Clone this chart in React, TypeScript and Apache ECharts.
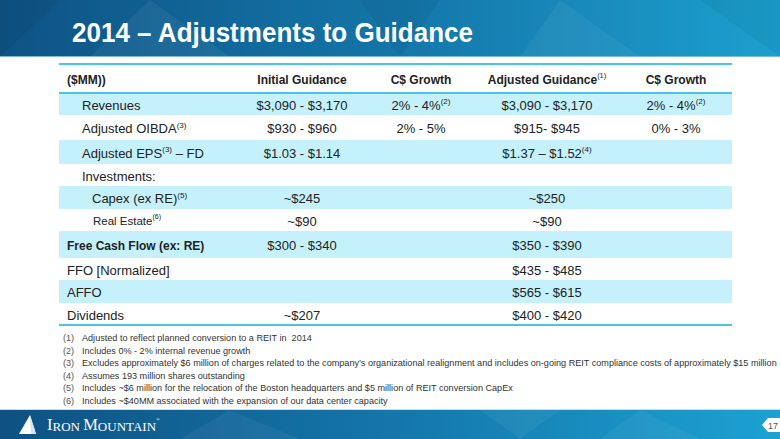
import React, { useEffect, useRef } from 'react';
import * as echarts from 'echarts';

// ---------- data ----------
const title = '2014 – Adjustments to Guidance';
const columnHeaders = ['($MM))', 'Initial Guidance', 'C$ Growth', 'Adjusted Guidance^(1)', 'C$ Growth'];
const rowLabels = [
  'Revenues',
  'Adjusted OIBDA^(3)',
  'Adjusted EPS^(3) – FD',
  'Investments:',
  'Capex (ex RE)^(5)',
  'Real Estate^(6)',
  'Free Cash Flow (ex: RE)',
  'FFO [Normalized]',
  'AFFO',
  'Dividends',
];
const initialGuidance = ['$3,090 - $3,170', '$930 - $960', '$1.03 - $1.14', '', '~$245', '~$90', '$300 - $340', '', '', '~$207'];
const initialGrowth = ['2% - 4%^(2)', '2% - 5%', '', '', '', '', '', '', '', ''];
const adjustedGuidance = ['$3,090 - $3,170', '$915- $945', '$1.37 – $1.52^(4)', '', '~$250', '~$90', '$350 - $390', '$435 - $485', '$565 - $615', '$400 - $420'];
const adjustedGrowth = ['2% - 4%^(2)', '0% - 3%', '', '', '', '', '', '', '', ''];
const footnoteNumbers = ['(1)', '(2)', '(3)', '(4)', '(5)', '(6)'];
const footnotes = [
  'Adjusted to reflect planned conversion to a REIT in  2014',
  'Includes 0% - 2% internal revenue growth',
  'Excludes approximately $6 million of charges related to the company’s organizational realignment and includes on-going REIT compliance costs of approximately $15 million',
  'Assumes 193 million shares outstanding',
  'Includes ~$6 million for the relocation of the Boston headquarters and $5 million of REIT conversion CapEx',
  'Includes ~$40MM associated with the expansion of our data center capacity',
];
const pageNumber = '17';

// ---------- layout ----------
const W = 780;
const H = 439;
const tableLeft = 59;
const tableRight = 732;
const tableTop = 64;
const headerBottom = 93;
const rowBounds = [93, 115, 140, 164, 186, 209, 231, 258, 280, 303, 325];
const labelX = [82, 82, 82, 82, 92, 93, 67, 67, 67, 67];
const labelSize = [13, 13, 13, 13, 13, 11.5, 12, 13, 13, 13];
const labelBold = [false, false, false, false, false, false, true, false, false, false];
const colCenters = [302, 421, 547, 676];
const FONT = '"Liberation Sans", Arial, sans-serif';
const TEXT = '#222';

const toRich = (s: string) => s.replace(/\^\((\d)\)/g, '{sup|($1)}');

function cellText(s: string, x: number, y: number, size: number, bold: boolean, align: string) {
  return {
    type: 'text',
    x,
    y,
    silent: true,
    style: {
      text: toRich(s),
      fill: TEXT,
      font: `${bold ? 'bold ' : ''}${size}px ${FONT}`,
      fontSize: size,
      fontWeight: bold ? 'bold' : 'normal',
      fontFamily: FONT,
      align,
      verticalAlign: 'middle',
      lineHeight: 15,
      rich: {
        sup: {
          fontSize: size * 0.62,
          fontFamily: FONT,
          fontWeight: 'normal',
          fill: TEXT,
          verticalAlign: 'top',
          lineHeight: 9,
        },
      },
    },
  };
}

function buildGraphics() {
  const g: any[] = [];
  // header band
  g.push({
    type: 'rect',
    shape: { x: 0, y: 0, width: W, height: 57 },
    style: {
      fill: new echarts.graphic.LinearGradient(0, 0, 1, 0, [
        { offset: 0, color: '#0e5384' },
        { offset: 0.5, color: '#1475a8' },
        { offset: 1, color: '#1ca0cf' },
      ]),
    },
    silent: true,
  });
  // faint triangle textures
  const tris = [
    [[0, 0], [60, 0], [0, 57]],
    [[150, 0], [230, 57], [90, 57]],
    [[360, 0], [440, 0], [400, 57]],
    [[560, 0], [640, 57], [520, 57]],
    [[700, 0], [780, 0], [780, 57]],
  ];
  tris.forEach((pts, i) =>
    g.push({
      type: 'polygon',
      shape: { points: pts },
      style: { fill: i % 2 ? 'rgba(255,255,255,0.05)' : 'rgba(0,0,0,0.05)' },
      silent: true,
    })
  );
  g.push({ type: 'rect', shape: { x: 0, y: 56, width: W, height: 1 }, style: { fill: '#7fb9d6' }, silent: true });
  // title
  g.push({
    type: 'text',
    x: 72,
    y: 33,
    scaleX: 0.93,
    silent: true,
    style: {
      text: title,
      fill: '#ffffff',
      font: `bold 28px ${FONT}`,
      align: 'left',
      verticalAlign: 'middle',
    },
  });

  // row shading
  for (let i = 0; i < rowLabels.length; i++) {
    if (i % 2 === 0) {
      g.push({
        type: 'rect',
        shape: { x: tableLeft, y: rowBounds[i], width: tableRight - tableLeft, height: rowBounds[i + 1] - rowBounds[i] },
        style: { fill: '#c4f1fc' },
        silent: true,
      });
    }
  }
  // table lines
  const lineY = [tableTop, headerBottom, rowBounds[rowBounds.length - 1]];
  lineY.forEach((y) =>
    g.push({
      type: 'line',
      shape: { x1: tableLeft, y1: y, x2: tableRight, y2: y },
      style: { stroke: '#4cc4ea', lineWidth: 2 },
      silent: true,
    })
  );

  // header row
  const hy = (tableTop + headerBottom) / 2 + 1;
  g.push(cellText(columnHeaders[0], 67, hy, 12, true, 'left'));
  for (let c = 1; c < columnHeaders.length; c++) {
    g.push(cellText(columnHeaders[c], colCenters[c - 1], hy, 12, true, 'center'));
  }

  // body rows
  const cols = [initialGuidance, initialGrowth, adjustedGuidance, adjustedGrowth];
  for (let i = 0; i < rowLabels.length; i++) {
    const y = (rowBounds[i] + rowBounds[i + 1]) / 2 + 1;
    g.push(cellText(rowLabels[i], labelX[i], y, labelSize[i], labelBold[i], 'left'));
    cols.forEach((col, c) => {
      if (col[i]) g.push(cellText(col[i], colCenters[c], y, 13, false, 'center'));
    });
  }

  // footnotes
  footnotes.forEach((f, i) => {
    const y = 338 + i * 12.6;
    g.push({
      type: 'text',
      x: 63,
      y,
      silent: true,
      style: { text: footnoteNumbers[i], fill: '#555', font: `9.1px ${FONT}`, align: 'left', verticalAlign: 'middle' },
    });
    g.push({
      type: 'text',
      x: 82,
      y,
      silent: true,
      style: { text: f, fill: '#333', font: `9.1px ${FONT}`, align: 'left', verticalAlign: 'middle' },
    });
  });

  // footer band
  g.push({ type: 'rect', shape: { x: 0, y: 409, width: W, height: 1 }, style: { fill: '#d8d8d8' }, silent: true });
  g.push({
    type: 'rect',
    shape: { x: 0, y: 410, width: W, height: H - 410 },
    style: {
      fill: new echarts.graphic.LinearGradient(0, 0, 1, 0, [
        { offset: 0, color: '#0e5182' },
        { offset: 0.5, color: '#1476aa' },
        { offset: 1, color: '#1ca2d2' },
      ]),
    },
    silent: true,
  });
  const ftris = [
    [[230, 410], [300, 439], [180, 439]],
    [[480, 410], [560, 410], [520, 439]],
    [[640, 410], [700, 439], [600, 439]],
  ];
  ftris.forEach((pts) =>
    g.push({ type: 'polygon', shape: { points: pts }, style: { fill: 'rgba(255,255,255,0.05)' }, silent: true })
  );
  // logo
  g.push({
    type: 'polygon',
    shape: { points: [[19, 434], [30, 415], [36, 434]] },
    style: { fill: '#ffffff' },
    silent: true,
  });
  g.push({
    type: 'polygon',
    shape: { points: [[30, 415], [36, 434], [31, 434]] },
    style: { fill: '#d6e4ee' },
    silent: true,
  });
  const serif = '"Liberation Serif", "Times New Roman", serif';
  g.push({
    type: 'text',
    x: 47,
    y: 425,
    silent: true,
    style: {
      text: '{a|I}{b|RON }{a|M}{b|OUNTAIN}{r|®}',
      fill: '#ffffff',
      align: 'left',
      verticalAlign: 'middle',
      rich: {
        a: { fontSize: 16.5, fontFamily: serif, fill: '#ffffff', lineHeight: 16, verticalAlign: 'bottom' },
        b: { fontSize: 13, fontFamily: serif, fill: '#ffffff', lineHeight: 16, verticalAlign: 'bottom' },
        r: { fontSize: 5, fontFamily: serif, fill: '#ffffff', lineHeight: 16, verticalAlign: 'top' },
      },
    },
  });
  // page tab
  g.push({
    type: 'polygon',
    shape: { points: [[762, 425], [768, 418], [780, 418], [780, 432], [768, 432]] },
    style: { fill: '#ffffff' },
    silent: true,
  });
  g.push({
    type: 'text',
    x: 773,
    y: 425.5,
    silent: true,
    style: { text: pageNumber, fill: '#555', font: `9px ${FONT}`, align: 'center', verticalAlign: 'middle' },
  });
  return g;
}

export default function App() {
  const ref = useRef<HTMLDivElement>(null);
  useEffect(() => {
    document.body.style.margin = '0';
    if (!ref.current) return;
    const chart = echarts.init(ref.current, undefined, { renderer: 'svg' });
    chart.setOption({
      animation: false,
      backgroundColor: '#ffffff',
      graphic: { elements: buildGraphics() },
    });
    return () => chart.dispose();
  }, []);
  return <div ref={ref} style={{ width: W, height: H }} />;
}
